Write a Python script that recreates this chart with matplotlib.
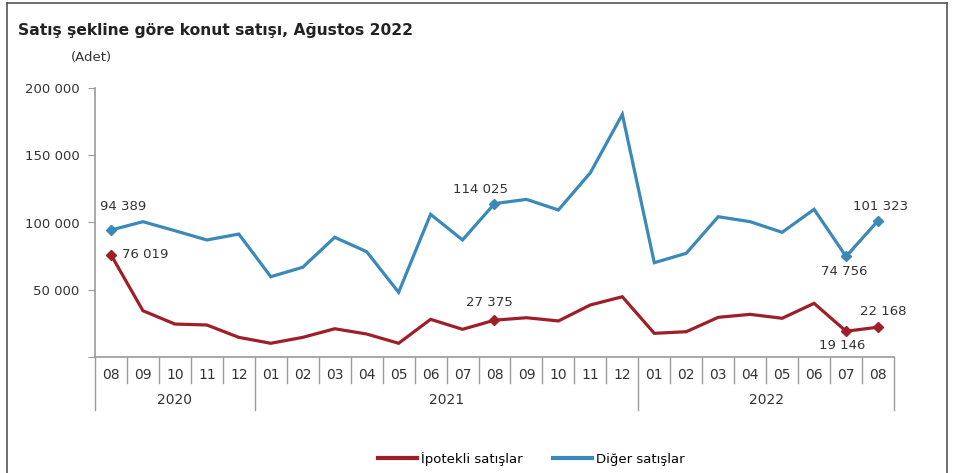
import matplotlib.pyplot as plt
from matplotlib.lines import Line2D

# aylik konut satislari (adet), 2020-08 .. 2022-08
aylar = ['08', '09', '10', '11', '12',
         '01', '02', '03', '04', '05', '06', '07', '08', '09', '10', '11', '12',
         '01', '02', '03', '04', '05', '06', '07', '08']
yillar = ['2020', '2021', '2022']
yil_sinirlari = [0, 5, 17, 25]

ipotekli = [76019, 34400, 24500, 23800, 14600,
            10200, 14600, 21000, 17100, 10200, 28000, 20600, 27375, 29200, 26800, 38700, 44800,
            17600, 18800, 29500, 31700, 28800, 39900, 19146, 22168]
diger = [94389, 100600, 93900, 87000, 91400,
         59700, 66700, 89000, 78300, 48100, 106100, 87000, 114025, 117200, 109300, 137000, 180400,
         70100, 77100, 104300, 100600, 92700, 109800, 74756, 101323]

yticks = [0, 50000, 100000, 150000, 200000]
ytick_labels = ['', '50 000', '100 000', '150 000', '200 000']

# etiketli noktalar: (indeks, metin ofseti, hizalama)
etiket_ipotekli = [(0, (8, 0), 'left'), (12, (-4, 13), 'center'), (23, (-3, -10), 'center'), (24, (4, 11), 'center')]
etiket_diger = [(0, (9, 17), 'center'), (12, (-10, 10), 'center'), (23, (-1, -11), 'center'), (24, (2, 10), 'center')]

plt.rcParams['font.family'] = ['DejaVu Sans']

kirmizi = '#9e1f28'
mavi = '#3a89b8'
gri = '#9a9a9a'
yazi = '#333333'

fig = plt.figure(figsize=(9.54, 4.73), dpi=100)
ax = fig.add_axes([95 / 954, 1 - 357 / 473, 799 / 954, 269 / 473])

x = [i + 0.5 for i in range(len(aylar))]
ax.plot(x, ipotekli, color=kirmizi, lw=2.3, solid_joinstyle='miter')
ax.plot(x, diger, color=mavi, lw=2.3, solid_joinstyle='miter')


def fmt(v):
    return '{:,}'.format(v).replace(',', ' ')


for seri, renk, etiketler in [(ipotekli, kirmizi, etiket_ipotekli), (diger, mavi, etiket_diger)]:
    for i, ofs, ha in etiketler:
        ax.plot(x[i], seri[i], marker='D', ms=5, color=renk)
        ax.annotate(fmt(seri[i]), (x[i], seri[i]), xytext=ofs, textcoords='offset points',
                    ha=ha, va='center', fontsize=9.5, color=yazi)

ax.set_xlim(0, len(aylar))
ax.set_ylim(0, 200000)
ax.set_yticks(yticks)
ax.set_yticklabels(ytick_labels)
ax.tick_params(axis='y', length=5, color=gri, labelsize=9.5, labelcolor=yazi, pad=6)
ax.set_xticks([])
for s in ['top', 'right']:
    ax.spines[s].set_visible(False)
for s in ['left', 'bottom']:
    ax.spines[s].set_color(gri)
    ax.spines[s].set_linewidth(1.2)

# ay ve yil ekseni
trans = ax.get_xaxis_transform()
for i in range(len(aylar) + 1):
    alt = -0.197 if i in yil_sinirlari else -0.097
    ax.plot([i, i], [0, alt], transform=trans, color=gri, lw=1.0, clip_on=False)
for i, ay in enumerate(aylar):
    ax.text(i + 0.5, -0.067, ay, transform=trans, ha='center', va='center',
            fontsize=10, color=yazi)
for k, yil in enumerate(yillar):
    orta = (yil_sinirlari[k] + yil_sinirlari[k + 1]) / 2
    ax.text(orta, -0.16, yil, transform=trans, ha='center', va='center',
            fontsize=10, color=yazi)

fig.text(18 / 954, 1 - 30 / 473, 'Satış şekline göre konut satışı, Ağustos 2022',
         fontsize=11.2, fontweight='bold', color='#222222', va='center')
fig.text(71 / 954, 1 - 57 / 473, '(Adet)', fontsize=9.5, color=yazi, va='center')

handles = [Line2D([], [], color=kirmizi, lw=3), Line2D([], [], color=mavi, lw=3)]
fig.legend(handles, ['İpotekli satışlar', 'Diğer satışlar'], loc='center',
           bbox_to_anchor=(531 / 954, 1 - 459 / 473), ncol=2, frameon=False,
           fontsize=9.5, handlelength=3.0, handletextpad=0.25, columnspacing=2.3)

# cerceve
for xs, ys in [([7, 7], [0, 470]), ([7, 947], [470, 470]), ([947, 947], [470, 0])]:
    fig.add_artist(Line2D([v / 954 for v in xs], [v / 473 for v in ys], color='#555555', lw=1.2))

fig.savefig('out.png', dpi=100)
